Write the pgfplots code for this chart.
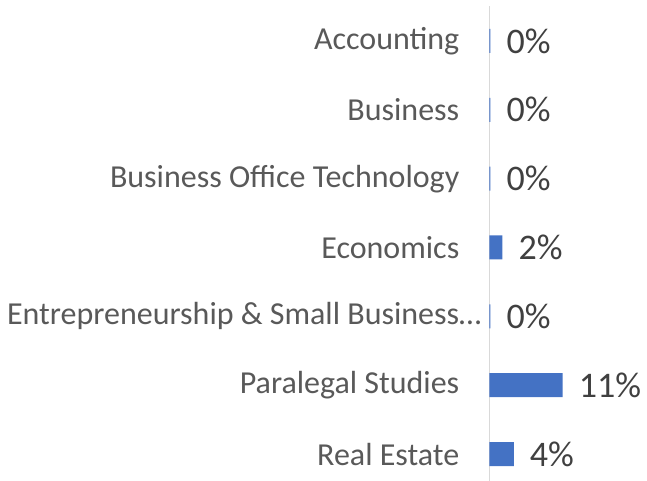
\documentclass[border=0pt]{standalone}
\usepackage{pgfplots}
\pgfplotsset{compat=1.18}
\usepackage{fontspec}
\setmainfont{Carlito}
\usetikzlibrary{calc}
\definecolor{barblue}{RGB}{68,114,196}
\definecolor{labgray}{RGB}{89,89,89}
\definecolor{valgray}{RGB}{64,64,64}
\definecolor{axgray}{RGB}{217,217,217}
\begin{document}
\begin{tikzpicture}
\begin{axis}[
  scale only axis,
  width=155.5pt, height=475pt,
  xmin=0, xmax=23.4,
  ymin=-0.392, ymax=6.508,
  axis x line=none,
  axis y line*=left,
  axis line style={draw=axgray, line width=1.5pt},
  xtick=\empty,
  ytick={0,...,6},
  yticklabels={Real Estate,Paralegal Studies,Entrepreneurship \& Small Business\rlap{…},Economics,Business Office Technology,Business,Accounting},
  major tick length=0pt,
  y tick label style={anchor=east, inner sep=0pt, xshift=-30pt, text=labgray, font=\fontsize{32}{32}\selectfont},
  xbar, bar width=24pt,
  point meta=explicit symbolic,
  nodes near coords={\pgfplotspointmeta},
  nodes near coords style={anchor=west, inner sep=0pt, xshift=16pt, text=valgray, font=\fontsize{36}{36}\selectfont},
  clip=false,
]
\addplot[fill=barblue, draw=none] coordinates {
  (3.65,0)[4\%]
  (11,1)[11\%]
  (0.15,2)[0\%]
  (1.95,3)[2\%]
  (0.15,4)[0\%]
  (0.15,5)[0\%]
  (0.15,6)[0\%]
};
\coordinate (bl) at (rel axis cs:0,0);
\end{axis}
\pgfresetboundingbox
\path ($(bl)+(-489.5pt,0)$) rectangle ($(bl)+(157.5pt,481pt)$);
\end{tikzpicture}
\end{document}
